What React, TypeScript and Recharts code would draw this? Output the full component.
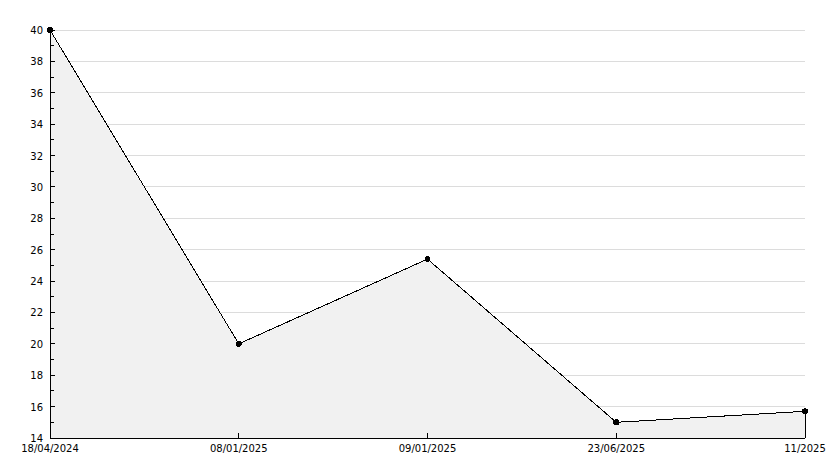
import React from 'react';
import { AreaChart, Area, XAxis, YAxis, CartesianGrid, ReferenceLine } from 'recharts';

const categories = ['18/04/2024', '08/01/2025', '09/01/2025', '23/06/2025', '11/2025'];
const values = [40, 20, 25.4, 15, 15.7];
const yMin = 14;
const yMax = 40;
const yTicks = [14, 15, 16, 17, 18, 19, 20, 21, 22, 23, 24, 25, 26, 27, 28, 29, 30, 31, 32, 33, 34, 35, 36, 37, 38, 39, 40];
const majorTicks = [14, 16, 18, 20, 22, 24, 26, 28, 30, 32, 34, 36, 38, 40];

const data = categories.map((c, i) => ({ name: c, value: values[i] }));

const FONT = '"DejaVu Sans", sans-serif';

const YTick = (props: any) => {
  const { x, y, payload } = props;
  const v = payload.value;
  const major = majorTicks.includes(v);
  return (
    <g>
      <line x1={x} x2={x + (major ? 5 : 4)} y1={y} y2={y} stroke="#000" strokeWidth={1} />
      {major && (
        <text x={x - 7} y={y} dy={4} textAnchor="end" fontFamily={FONT} fontSize={10} fill="#000">
          {v}
        </text>
      )}
    </g>
  );
};

const XTick = (props: any) => {
  const { x, y, payload } = props;
  return (
    <g>
      <line x1={x} x2={x} y1={y - 5} y2={y} stroke="#000" strokeWidth={1} />
      <text x={x} y={y + 14} textAnchor="middle" fontFamily={FONT} fontSize={10} fill="#000">
        {payload.value}
      </text>
    </g>
  );
};

const GridLine = (props: any) => {
  const { x1, x2, y1, y2, index } = props;
  if (!majorTicks.includes(yTicks[index])) return <g />;
  return <line x1={x1} x2={x2} y1={y1} y2={y2} stroke="#dcdcdc" strokeWidth={1} />;
};

export default function App() {
  return (
    <div style={{ position: 'absolute', left: 0, top: 0, width: 834, height: 468, background: '#fff' }}>
      <AreaChart
        width={834}
        height={468}
        data={data}
        margin={{ top: 30, right: 29, left: 0, bottom: 0 }}
        style={{ shapeRendering: 'crispEdges' }}
      >
        <CartesianGrid vertical={false} horizontal={(p: any) => <GridLine key={p.key} {...p} />} />
        <XAxis
          dataKey="name"
          height={30}
          tickLine={false}
          tickSize={0}
          tickMargin={0}
          interval={0}
          axisLine={{ stroke: '#000', strokeWidth: 1 }}
          tick={<XTick />}
        />
        <YAxis
          width={50}
          domain={[yMin, yMax]}
          ticks={yTicks}
          interval={0}
          tickLine={false}
          tickSize={0}
          tickMargin={0}
          axisLine={{ stroke: '#000', strokeWidth: 1 }}
          tick={<YTick />}
        />
        <Area
          type="linear"
          dataKey="value"
          stroke="#000"
          strokeWidth={1}
          fill="#f1f1f1"
          fillOpacity={1}
          isAnimationActive={false}
          dot={{ r: 2.5, fill: '#000', stroke: '#000', strokeWidth: 1 }}
          activeDot={false}
        />
        <ReferenceLine
          segment={[
            { x: categories[categories.length - 1], y: yMin },
            { x: categories[categories.length - 1], y: values[values.length - 1] },
          ]}
          stroke="#000"
          strokeWidth={1}
        />
      </AreaChart>
    </div>
  );
}
